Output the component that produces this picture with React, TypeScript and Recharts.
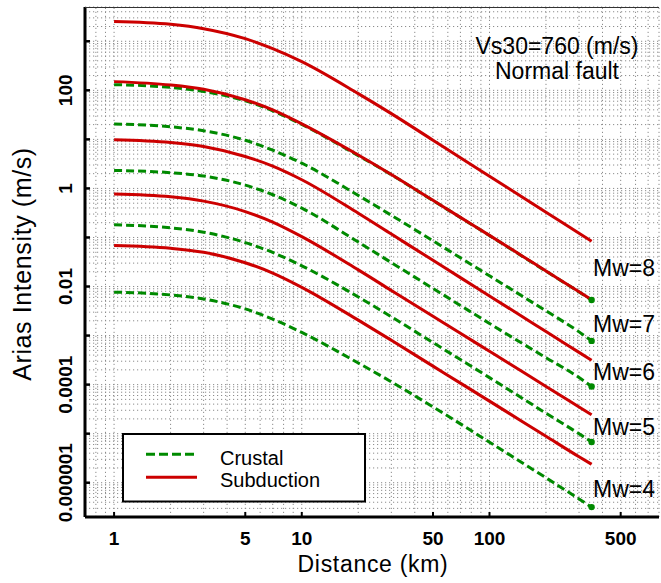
import React from "react";
import { LineChart, Line, XAxis, YAxis, ReferenceLine } from "recharts";

const FONT = "'Liberation Sans', Arial, Helvetica, sans-serif";
const RED = "#cc0000";
const GREEN = "#008a00";
const GRID = "#8c8c8c";

// distance (km)
const distances = [1, 2, 3, 5, 7, 10, 20, 30, 50, 70, 100, 150, 200, 300, 350];

// Arias intensity (m/s), subduction (solid red)
const sub8 = [2523, 2213, 1807, 1130, 709.6, 385.3, 85.7, 33.5, 9.63, 4.23, 1.774, 0.661, 0.3268, 0.1218, 0.0836];
const sub7 = [150.5, 128.3, 104.8, 64.3, 39.8, 20.7, 4.8, 1.921, 0.5716, 0.2572, 0.1104, 0.04153, 0.02072, 0.007795, 0.005353];
const sub6 = [9.86, 8.644, 7.164, 4.477, 2.851, 1.505, 0.3118, 0.1173, 0.03425, 0.01519, 0.006431, 0.002419, 0.001207, 0.0004541, 0.0003131];
const sub5 = [0.7687, 0.6741, 0.5506, 0.3377, 0.2062, 0.1043, 0.02182, 0.008325, 0.002476, 0.001114, 0.0004781, 0.0001825, 0.00009189, 0.00003506, 0.0000243];
const sub4 = [0.06866, 0.0602, 0.04989, 0.0306, 0.01877, 0.009631, 0.002062, 0.0008018, 0.0002385, 0.0001073, 0.00004605, 0.00001757, 0.00000885, 0.000003377, 0.000002374];

// crustal (dashed green)
const cru8 = [130.7, 114.6, 95.0, 60.8, 38.2, 20.14, 4.67, 1.904, 0.5663, 0.2548, 0.1093, 0.04114, 0.02052, 0.007723, 0.005304];
const cru7 = [20.62, 18.08, 14.98, 9.586, 6.019, 3.268, 0.7197, 0.2838, 0.08563, 0.03852, 0.01653, 0.00631, 0.003193, 0.00119, 0.000779];
const cru6 = [2.329, 2.091, 1.791, 1.168, 0.7437, 0.3963, 0.08054, 0.03074, 0.009146, 0.004114, 0.001766, 0.0006866, 0.000354, 0.0001396, 0.00009146];
const cru5 = [0.1816, 0.157, 0.1283, 0.07867, 0.04943, 0.02645, 0.006135, 0.002419, 0.0007197, 0.0003237, 0.0001389, 0.00005229, 0.00002608, 0.000009954, 0.00000677];
const cru4 = [0.007686, 0.006741, 0.005584, 0.003491, 0.002161, 0.001157, 0.0002759, 0.000114, 0.00003522, 0.00001585, 0.000006706, 0.000002523, 0.000001259, 0.0000004671, 0.0000003177];

const xTicks = [1, 5, 10, 50, 100, 500];
const yTicks = [1e-6, 1e-5, 1e-4, 1e-3, 1e-2, 0.1, 1, 10, 100, 1000];
const yLabelled = [1e-6, 1e-4, 1e-2, 1, 100];
const yLabelText = ["0.000001", "0.0001", "0.01", "1", "100"];
const mwLabels = ["Mw=8", "Mw=7", "Mw=6", "Mw=5", "Mw=4"];

const data = distances.map((d, i) => ({
  d,
  sub8: sub8[i], sub7: sub7[i], sub6: sub6[i], sub5: sub5[i], sub4: sub4[i],
  cru8: cru8[i], cru7: cru7[i], cru6: cru6[i], cru5: cru5[i], cru4: cru4[i],
}));

// log grid: every 1..9 x 10^n inside the axis range
function logGrid(lo: number, hi: number, e0: number, e1: number) {
  const out: number[] = [];
  for (let e = e0; e <= e1; e++) {
    for (let k = 1; k <= 9; k++) {
      const v = k * Math.pow(10, e);
      if (v >= lo * 0.999 && v <= hi * 1.001) out.push(v);
    }
  }
  return out;
}
const gridX = logGrid(0.7, 800, -1, 2);
const gridY = logGrid(2e-7, 5000, -7, 3);

const XTick = (props: any) => {
  const { x, y, payload } = props;
  return (
    <g>
      <line x1={x} y1={y} x2={x} y2={y - 5} stroke="#000" strokeWidth={2} />
      <text x={x} y={y + 28} textAnchor="middle" fontFamily={FONT} fontWeight="bold" fontSize={19} fill="#000">
        {payload.value}
      </text>
    </g>
  );
};

const YTick = (props: any) => {
  const { x, y, payload } = props;
  const idx = yLabelled.findIndex((t) => Math.abs(Math.log10(t) - Math.log10(payload.value)) < 1e-6);
  return (
    <g>
      <line x1={x} y1={y} x2={x + 5} y2={y} stroke="#000" strokeWidth={2.5} />
      {idx >= 0 ? (
        <text
          x={x - 13}
          y={y}
          transform={`rotate(-90 ${x - 13} ${y})`}
          textAnchor="middle"
          fontFamily={FONT}
          fontWeight="bold"
          fontSize={19}
          fill="#000"
        >
          {yLabelText[idx]}
        </text>
      ) : null}
    </g>
  );
};

const lastDot = (props: any) => {
  const { cx, cy, index, key } = props;
  if (index !== distances.length - 1) return <g key={key ?? index} />;
  return <circle key={key ?? index} cx={cx} cy={cy} r={3.2} fill={GREEN} />;
};

const subKeys = ["sub8", "sub7", "sub6", "sub5", "sub4"];
const cruKeys = ["cru8", "cru7", "cru6", "cru5", "cru4"];
const mwY = [275.7, 331.5, 380, 435, 496.5];

export default function App() {
  return (
    <div style={{ position: "absolute", left: 0, top: 0, width: 661, height: 583, background: "#fff" }}>
      <LineChart width={661} height={583} data={data} margin={{ top: 7, right: 2, bottom: 0, left: 0 }}>
        <XAxis
          dataKey="d"
          type="number"
          scale="log"
          domain={[0.7, 800]}
          ticks={xTicks}
          allowDataOverflow
          height={66}
          tickSize={0}
          tickMargin={0}
          tick={<XTick />}
          axisLine={{ stroke: "#000", strokeWidth: 3 }}
        />
        <YAxis
          type="number"
          scale="log"
          domain={[2e-7, 5000]}
          ticks={yTicks}
          allowDataOverflow
          width={85}
          tickSize={0}
          tickMargin={0}
          tick={<YTick />}
          axisLine={{ stroke: "#000", strokeWidth: 3 }}
        />
        {gridY.map((v) => (
          <ReferenceLine key={"gy" + v} y={v} stroke={GRID} strokeDasharray="1.2 2.8" strokeWidth={1} />
        ))}
        {gridX.map((v) => (
          <ReferenceLine key={"gx" + v} x={v} stroke={GRID} strokeDasharray="1.2 2.8" strokeWidth={1} />
        ))}
        {cruKeys.map((k) => (
          <Line
            key={k}
            type="monotone"
            dataKey={k}
            stroke={GREEN}
            strokeWidth={3}
            strokeDasharray="8 4"
            dot={lastDot}
            activeDot={false}
            isAnimationActive={false}
          />
        ))}
        {subKeys.map((k) => (
          <Line
            key={k}
            type="monotone"
            dataKey={k}
            stroke={RED}
            strokeWidth={3}
            dot={false}
            activeDot={false}
            isAnimationActive={false}
          />
        ))}
      </LineChart>
      <svg
        width={661}
        height={583}
        style={{ position: "absolute", left: 0, top: 0, pointerEvents: "none" }}
        fontFamily={FONT}
      >
        <line x1={85} y1={7.5} x2={659} y2={7.5} stroke="#333" strokeWidth={1.2} />
        <text x={31} y={264} transform="rotate(-90 31 264)" textAnchor="middle" fontSize={25} letterSpacing={0.6} fill="#000">
          Arias Intensity (m/s)
        </text>
        <text x={373} y={572} textAnchor="middle" fontSize={23} letterSpacing={0.7} fill="#000">
          Distance (km)
        </text>
        <text x={557} y={54} textAnchor="middle" fontSize={23} fill="#000">
          Vs30=760 (m/s)
        </text>
        <text x={557} y={79} textAnchor="middle" fontSize={23} fill="#000">
          Normal fault
        </text>
        {mwLabels.map((t, i) => (
          <text key={t} x={593} y={mwY[i]} fontSize={23} fill="#000">
            {t}
          </text>
        ))}
        <rect x={123} y={434} width={242} height={67.5} fill="#fff" stroke="#000" strokeWidth={2} />
        <line x1={146} y1={454.3} x2={197} y2={454.3} stroke={GREEN} strokeWidth={3} strokeDasharray="9 4" />
        <line x1={146} y1={477.3} x2={197} y2={477.3} stroke={RED} strokeWidth={3} />
        <text x={220} y={465} fontSize={20} fill="#000">
          Crustal
        </text>
        <text x={220} y={487} fontSize={20} fill="#000">
          Subduction
        </text>
      </svg>
    </div>
  );
}
